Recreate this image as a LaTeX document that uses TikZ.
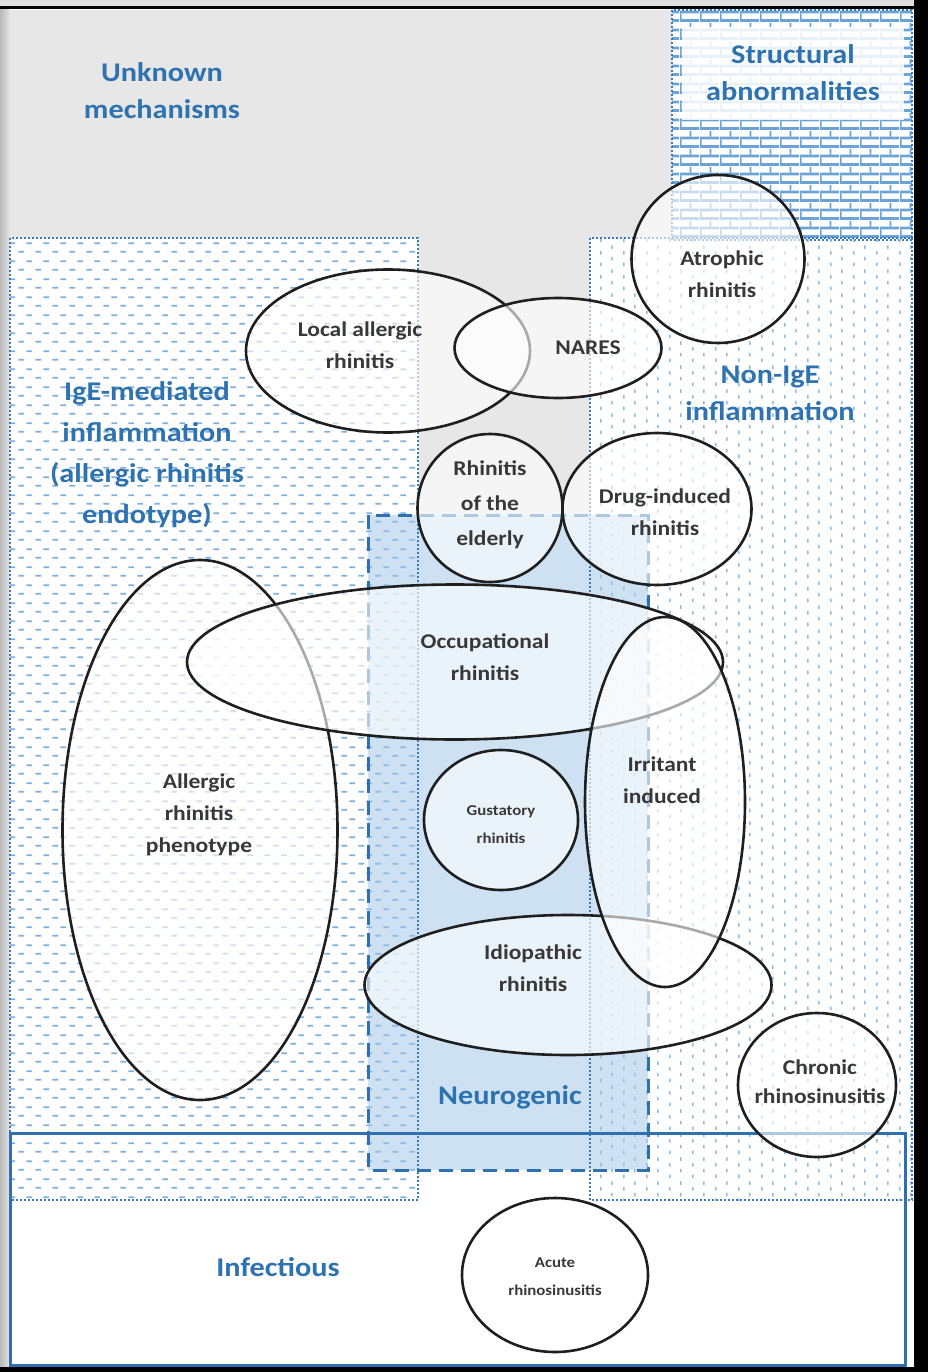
\documentclass[tikz,border=0pt]{standalone}
\usepackage{fontspec}
\setmainfont{Carlito}[FakeStretch=1.12]
\usetikzlibrary{shapes.geometric,patterns.meta}

\definecolor{unkgray}{HTML}{E7E7E7}
\definecolor{labblue}{HTML}{2E72B0}
\definecolor{dashblue}{HTML}{7DB0DC}
\definecolor{dotblue}{HTML}{8DBCE2}
\definecolor{brickblue}{HTML}{6CA3D6}
\definecolor{edgeblue}{HTML}{3A7BBE}
\definecolor{neuroblue}{HTML}{9CC4E8}
\definecolor{frameblue}{HTML}{2F70AE}
\definecolor{ink}{HTML}{383838}

% horizontal staggered dashes (IgE-mediated area)
\tikzdeclarepattern{
  name=igedashes,
  type=uncolored,
  bounding box={(0pt,0pt) and (17pt,18pt)},
  tile size={(17pt,18pt)},
  code={
    \draw[line width=1.8pt] (1.5pt,4.5pt) -- (7.5pt,4.5pt)
                            (10pt,13.5pt) -- (16pt,13.5pt);
  }
}
% short vertical ticks (non-IgE area)
\tikzdeclarepattern{
  name=nonigeticks,
  type=uncolored,
  bounding box={(0pt,0pt) and (23pt,24pt)},
  tile size={(23pt,24pt)},
  code={
    \draw[line width=1.5pt] (3pt,2pt) -- (3pt,5.5pt)
                            (3pt,14pt) -- (3pt,17.5pt)
                            (14.5pt,8pt) -- (14.5pt,11.5pt)
                            (14.5pt,20pt) -- (14.5pt,23.5pt);
  }
}
% brick wall (structural abnormalities)
\tikzdeclarepattern{
  name=bricks,
  type=uncolored,
  bounding box={(0pt,0pt) and (20pt,18pt)},
  tile size={(20pt,18pt)},
  code={
    \fill (0pt,0pt) rectangle (20pt,3pt);
    \fill (0pt,9pt) rectangle (20pt,12pt);
    \fill (0pt,3pt) rectangle (1.8pt,9pt);
    \fill (10pt,12pt) rectangle (11.8pt,18pt);
  }
}

\begin{document}
\begin{tikzpicture}[x=1pt,y=-1pt,
  ring/.style={ellipse, draw=black!88, line width=2.6pt, fill=white,
    fill opacity=0.62, inner sep=0pt, outer sep=0pt},
  regionlabel/.style={text=labblue, align=center,
    font=\fontsize{27}{37}\selectfont\bfseries},
  ringlabel/.style={text=ink, align=center,
    font=\fontsize{21}{32}\selectfont\bfseries},
  smalllabel/.style={text=ink, align=center,
    font=\fontsize{15}{28}\selectfont\bfseries},
  regionedge/.style={edgeblue, line width=2pt, dotted}
]
\useasboundingbox (0,0) rectangle (928,1372);
\fill[white] (0,0) rectangle (928,1372);

% slide surround
\shade[left color=gray!55, right color=gray!20] (0,0) rectangle (10,1372);
\fill[gray!25] (0,0) rectangle (928,6);

% unknown mechanisms (grey)
\fill[unkgray] (10,10) rectangle (672,238);
\fill[unkgray] (418,238) rectangle (590,515);

% structural abnormalities
\fill[white] (672,10) rectangle (912,240);
\fill[pattern=bricks, pattern color=brickblue] (672,10) rectangle (912,240);
\fill[white, opacity=0.85] (682,27) rectangle (904,120);
\draw[regionedge, line width=1.6pt] (672,10) rectangle (912,240);

% IgE-mediated and non-IgE inflammation
\fill[pattern=igedashes, pattern color=dashblue] (10,238) rectangle (418,1200);
\fill[pattern=nonigeticks, pattern color=dotblue] (590,238) rectangle (912,1200);

% neurogenic band
\fill[neuroblue, opacity=0.5] (368,515) rectangle (648,1170);

\draw[regionedge] (10,238) rectangle (418,1200);
\draw[regionedge] (590,238) rectangle (912,1200);
\draw[frameblue, line width=3pt, dash pattern=on 14pt off 8pt] (368,515) rectangle (648,1170);

% infectious
\draw[frameblue, line width=3pt] (10,1133) rectangle (905,1365);

% phenotypes
\node[ring, minimum width=275pt, minimum height=540pt] (allergic) at (200,830) {};
\node[ring, minimum width=536pt, minimum height=155pt] (occupational) at (455,662) {};
\node[ring, minimum width=284pt, minimum height=163pt] (localallergic) at (388,351) {};
\node[ring, minimum width=207pt, minimum height=100pt] (nares) at (558,348) {};
\node[ring, minimum width=407pt, minimum height=140pt] (idiopathic) at (568,985) {};
\node[ring, minimum width=160pt, minimum height=370pt] (irritant) at (665,802) {};
\node[ring, minimum width=173pt, minimum height=168pt] (atrophic) at (718,259) {};
\node[ring, minimum width=145pt, minimum height=148pt] (elderly) at (490,508) {};
\node[ring, minimum width=189pt, minimum height=152pt] (drug) at (657,509) {};
\node[ring, minimum width=154pt, minimum height=140pt] (gustatory) at (501,820) {};
\node[ring, minimum width=158pt, minimum height=144pt] (chronic) at (817,1085) {};
\node[ring, minimum width=186pt, minimum height=154pt] (acute) at (555,1275) {};

% region labels
\node[regionlabel] (lblunknown) at (162,91) {Unknown\\mechanisms};
\node[regionlabel] (lblstructural) at (793,73) {Structural\\abnormalities};
\node[regionlabel, font=\fontsize{27}{41}\selectfont\bfseries] (lblige) at (147,455)
  {IgE-mediated\\inflammation\\(allergic rhinitis\\endotype)};
\node[regionlabel] (lblnonige) at (770,393) {Non-IgE\\inflammation};
\node[regionlabel] (lblneuro) at (510,1097) {Neurogenic};
\node[regionlabel] (lblinfect) at (278,1267) {Infectious};

% phenotype labels
\node[ringlabel] (txtlocal) at (360,345) {Local allergic\\rhinitis};
\node[ringlabel] (txtnares) at (588,348) {NARES};
\node[ringlabel] (txtatrophic) at (722,274) {Atrophic\\rhinitis};
\node[ringlabel, font=\fontsize{21}{35}\selectfont\bfseries] (txtelderly) at (490,505) {Rhinitis\\of the\\elderly};
\node[ringlabel] (txtdrug) at (665,512) {Drug-induced\\rhinitis};
\node[ringlabel] (txtoccup) at (485,657) {Occupational\\rhinitis};
\node[ringlabel] (txtallergic) at (199,815) {Allergic\\rhinitis\\phenotype};
\node[ringlabel] (txtirritant) at (662,780) {Irritant\\induced};
\node[smalllabel] (txtgust) at (501,825) {Gustatory\\rhinitis};
\node[ringlabel] (txtidio) at (533,968) {Idiopathic\\rhinitis};
\node[ringlabel, font=\fontsize{21}{29}\selectfont\bfseries] (txtchronic) at (820,1082) {Chronic\\rhinosinusitis};
\node[smalllabel] (txtacute) at (555,1277) {Acute\\rhinosinusitis};

% frame
\fill[black] (0,6) rectangle (914,9.5);
\fill[black] (914,0) rectangle (928,1372);
\fill[black] (0,1367) rectangle (928,1372);
\end{tikzpicture}
\end{document}
